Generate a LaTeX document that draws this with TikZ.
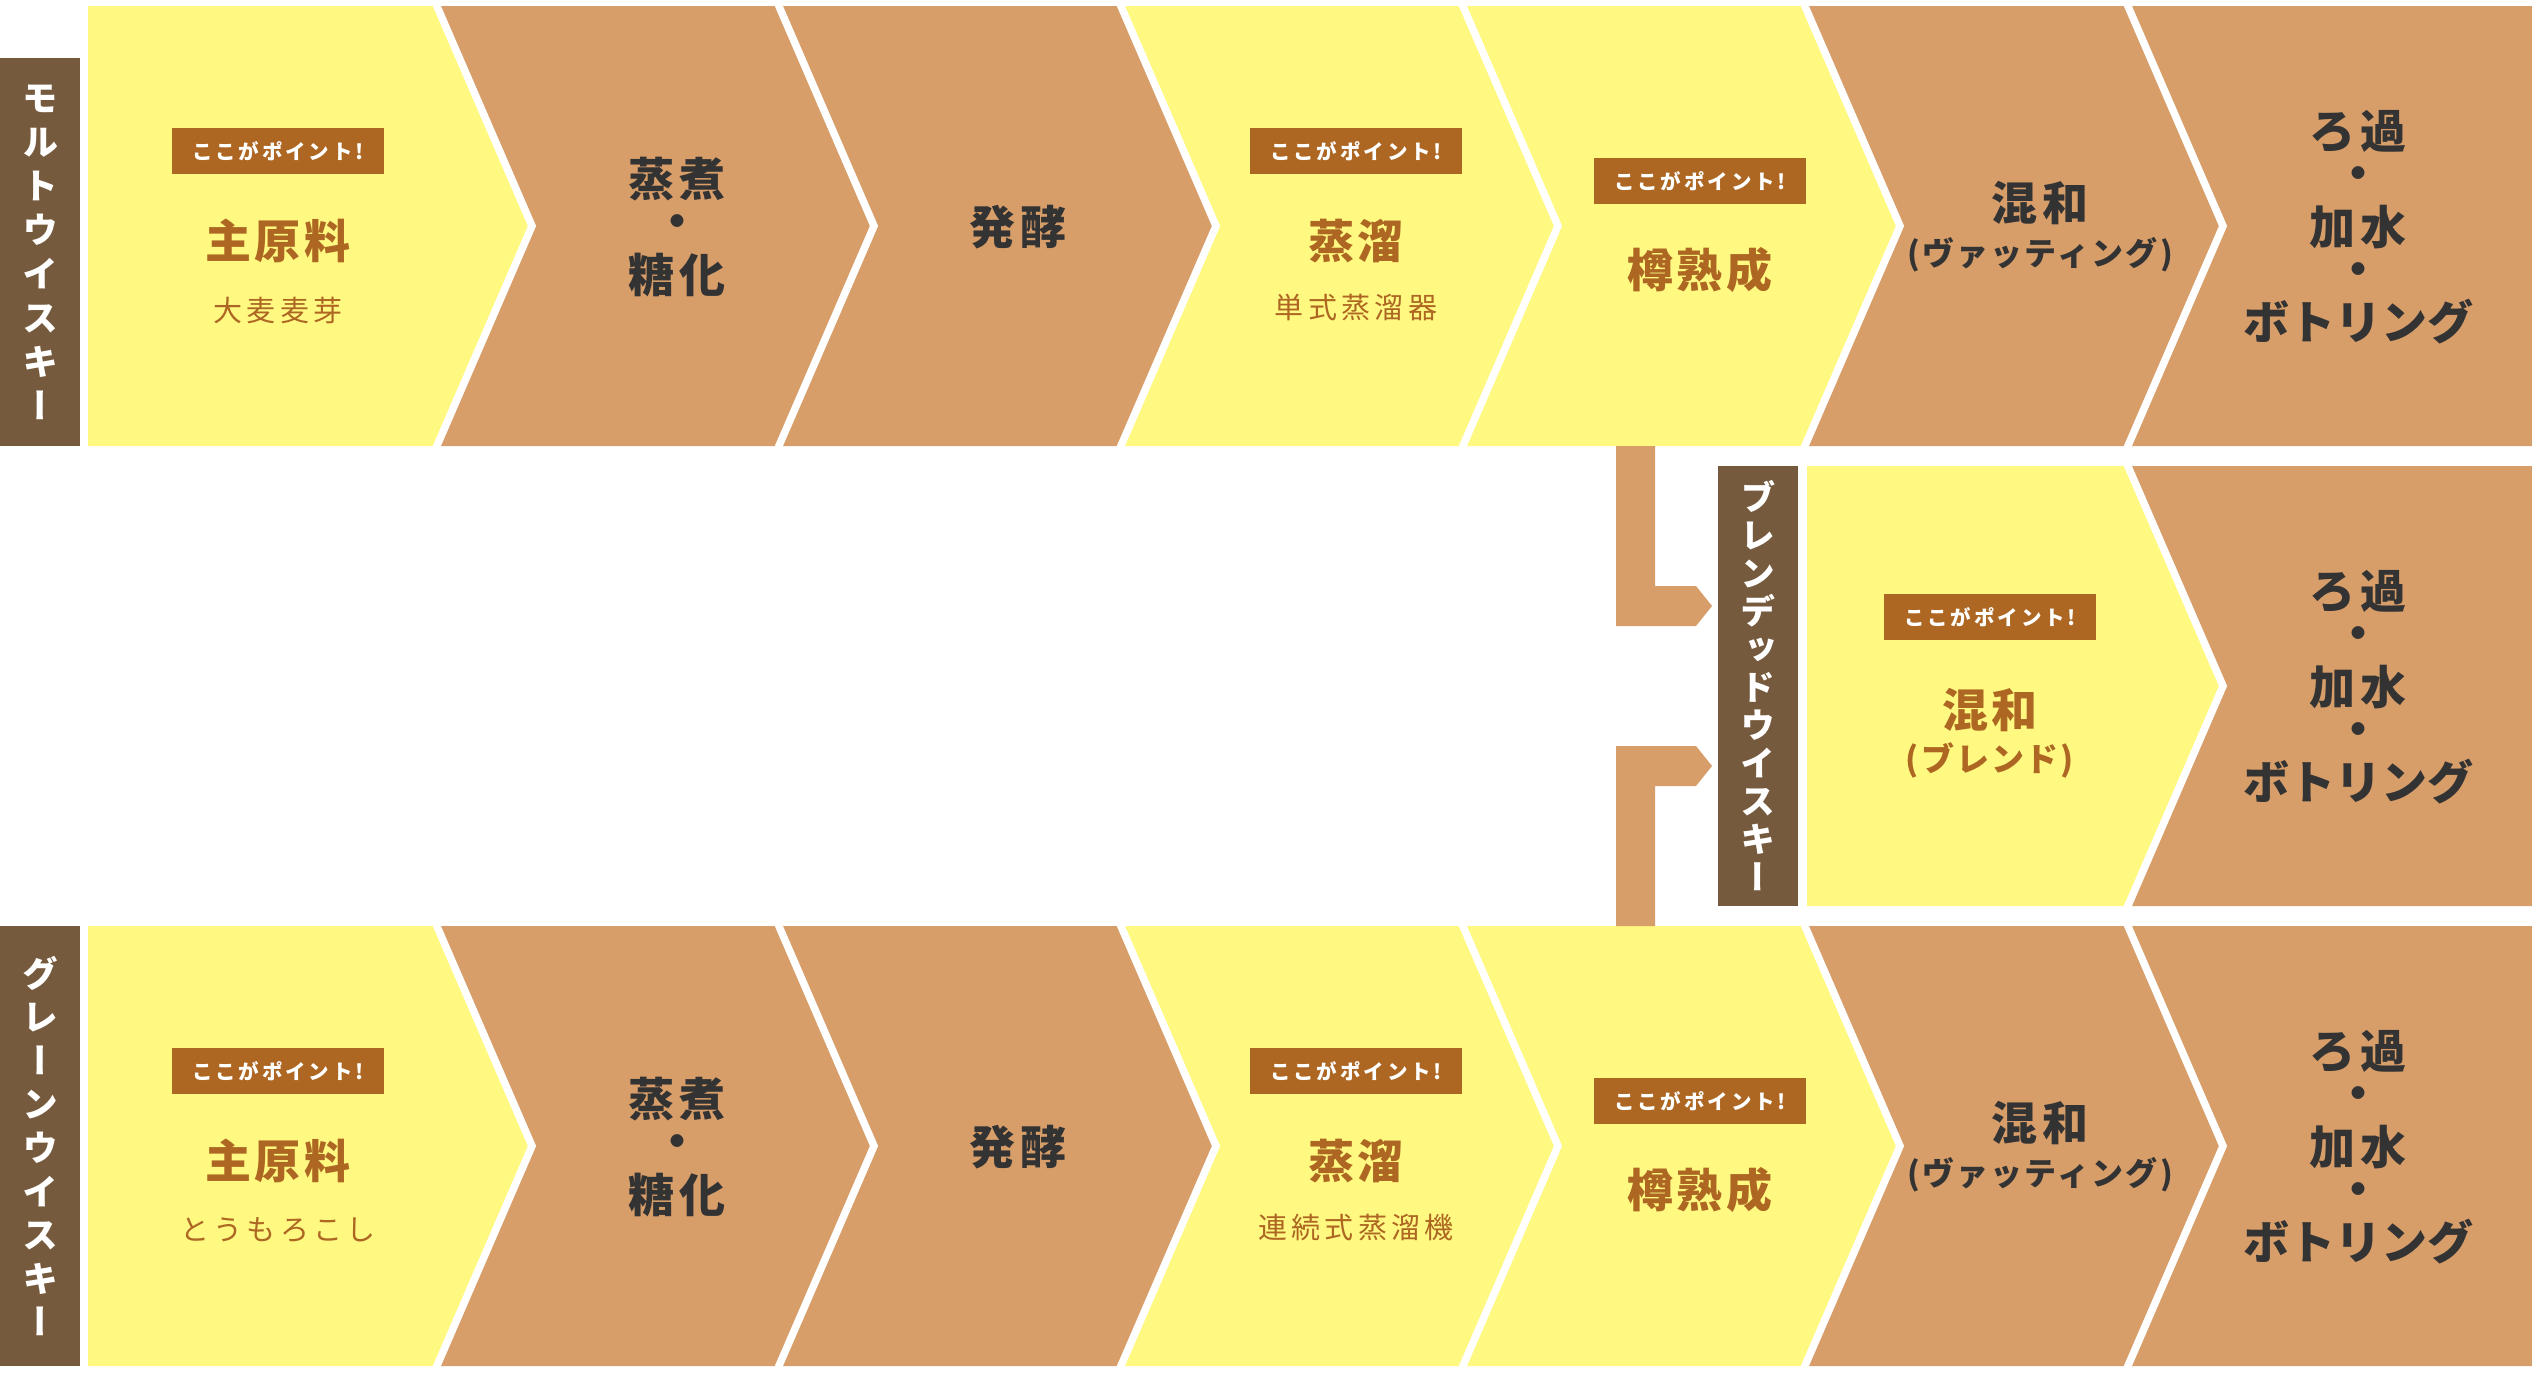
\documentclass[tikz,border=0pt]{standalone}
\usepackage{fontspec}
\setmainfont{Noto Sans CJK JP}
\newfontfamily\jpv[RawFeature=+vert]{Noto Sans CJK JP}
\definecolor{ylw}{HTML}{FFF982}
\definecolor{brn}{HTML}{D89E6A}
\definecolor{lbl}{HTML}{765A3E}
\definecolor{acc}{HTML}{AD6722}
\definecolor{drk}{HTML}{333333}
\tikzset{
  badge/.style={fill=acc,text=white,minimum width=212pt,minimum height=46pt,inner sep=0pt,
    font=\bfseries\fontsize{20.5}{22}\selectfont\addfontfeature{LetterSpace=14}},
  ttl/.style={text=acc,inner sep=0pt,font=\bfseries\fontsize{46}{50}\selectfont\addfontfeature{LetterSpace=8}},
  sub/.style={text=acc,inner sep=0pt,font=\fontsize{29}{30}\selectfont\addfontfeature{LetterSpace=15}},
  par/.style={text=acc,inner sep=0pt,font=\bfseries\fontsize{33}{36}\selectfont\addfontfeature{LetterSpace=6}},
  dk/.style={text=drk,inner sep=0pt,font=\bfseries\fontsize{46}{50}\selectfont\addfontfeature{LetterSpace=10}},
  dkn/.style={text=drk,inner sep=0pt,font=\bfseries\fontsize{46}{50}\selectfont},
  dkpar/.style={text=drk,inner sep=0pt,font=\bfseries\fontsize{32}{36}\selectfont\addfontfeature{LetterSpace=7}},
  vlab/.style={fill=lbl,text=white,inner sep=0pt,minimum width=80pt,align=center},
  sep/.style={draw=white,line width=7.5pt,line join=miter}
}
% chevron with notch left and tip right: color, left b, right b, y0
\newcommand\chv[4]{\fill[#1] (#2,#4) -- ({#2+96},{#4+220}) -- (#2,{#4+440}) -- (#3,{#4+440}) -- ({#3+96},{#4+220}) -- (#3,#4) -- cycle;}
% first chevron, flat left
\newcommand\chf[4]{\fill[#1] (#2,#4) -- (#2,{#4+440}) -- (#3,{#4+440}) -- ({#3+96},{#4+220}) -- (#3,#4) -- cycle;}
% last chevron, flat right
\newcommand\chl[4]{\fill[#1] (#2,#4) -- ({#2+96},{#4+220}) -- (#2,{#4+440}) -- (#3,{#4+440}) -- (#3,#4) -- cycle;}
\newcommand\wsep[2]{\draw[sep] (#1,{#2-2}) -- ({#1+96},{#2+220}) -- (#1,{#2+442});}
\begin{document}
\begin{tikzpicture}[x=1pt,y=-1pt]
\useasboundingbox (0,0) rectangle (2532,1376);
\fill[white] (0,0) rectangle (2532,1376);
% rows 1 and 3
\foreach \yy in {6,926}{
  \chf{ylw}{88}{436}{\yy}
  \chv{brn}{436}{778}{\yy}
  \chv{brn}{778}{1120}{\yy}
  \chv{ylw}{1120}{1462}{\yy}
  \chv{ylw}{1462}{1804}{\yy}
  \chv{brn}{1804}{2127}{\yy}
  \chl{brn}{2127}{2532}{\yy}
  \foreach \bb in {436,778,1120,1462,1804,2127}{\wsep{\bb}{\yy}}
}
% middle row
\chf{ylw}{1807}{2127}{466}
\chl{brn}{2127}{2532}{466}
\wsep{2127}{466}
% connector arrows
\coordinate (cu) at (1616,446);
\coordinate (cl) at (1616,926);
\fill[brn] (cu) -- (1655,446) -- (1655,586) -- (1696,586) -- (1712,606) -- (1696,626) -- (1616,626) -- cycle;
\fill[brn] (cl) -- (1616,746) -- (1696,746) -- (1712,766) -- (1696,786) -- (1655,786) -- (1655,926) -- cycle;
% labels
\node[vlab,minimum height=388pt,font=\jpv\bfseries\fontsize{36}{44}\selectfont] (lab1) at (40,252) {モ\\ル\\ト\\ウ\\イ\\ス\\キ\\ー};
\node[vlab,minimum height=440pt,font=\jpv\bfseries\fontsize{36}{43.6}\selectfont] (lab3) at (40,1146) {グ\\レ\\ー\\ン\\ウ\\イ\\ス\\キ\\ー};
\node[vlab,minimum height=440pt,font=\jpv\bfseries\fontsize{35}{38}\selectfont] (lab2) at (1758,686) {ブ\\レ\\ン\\デ\\ッ\\ド\\ウ\\イ\\ス\\キ\\ー};
% row texts (rows 1 and 3)
\foreach \dy/\rn/\ma/\di in {0/a/大麦麦芽/単式蒸溜器,920/c/とうもろこし/連続式蒸溜機}{
  \node[badge] (b1\rn) at (278,{151+\dy}) {ここがポイント!};
  \node[ttl] (t1\rn) at (278,{241+\dy}) {主原料};
  \node[sub] (s1\rn) at (278,{310+\dy}) {\ma};
  \node[dk] (t2\rn) at (677,{179+\dy}) {蒸煮};
  \node[dk] (d2\rn) at (677,{227+\dy}) {・};
  \node[dk] (u2\rn) at (677,{275+\dy}) {糖化};
  \node[dk] (t3\rn) at (1018,{227+\dy}) {発酵};
  \node[badge] (b4\rn) at (1356,{151+\dy}) {ここがポイント!};
  \node[ttl] (t4\rn) at (1356,{241+\dy}) {蒸溜};
  \node[sub] (s4\rn) at (1356,{308+\dy}) {\di};
  \node[badge] (b5\rn) at (1700,{181+\dy}) {ここがポイント!};
  \node[ttl] (t5\rn) at (1700,{270+\dy}) {樽熟成};
  \node[dk] (t6\rn) at (2040,{203+\dy}) {混和};
  \node[dkpar] (s6\rn) at (2040,{255+\dy}) {(ヴァッティング)};
  \node[dk] (p1\rn) at (2358,{132+\dy}) {ろ過};
  \node[dk] (p2\rn) at (2358,{179+\dy}) {・};
  \node[dk] (p3\rn) at (2358,{227+\dy}) {加水};
  \node[dk] (p4\rn) at (2358,{275+\dy}) {・};
  \node[dkn] (p5\rn) at (2358,{322+\dy}) {ボトリング};
}
% middle row texts
\node[badge] (bm) at (1990,617) {ここがポイント!};
\node[ttl] (tm) at (1990,710) {混和};
\node[par] (sm) at (1990,760) {(ブレンド)};
\node[dk] (q1) at (2358,592) {ろ過};
\node[dk] (q2) at (2358,639) {・};
\node[dk] (q3) at (2358,687) {加水};
\node[dk] (q4) at (2358,735) {・};
\node[dkn] (q5) at (2358,782) {ボトリング};
\end{tikzpicture}
\end{document}
